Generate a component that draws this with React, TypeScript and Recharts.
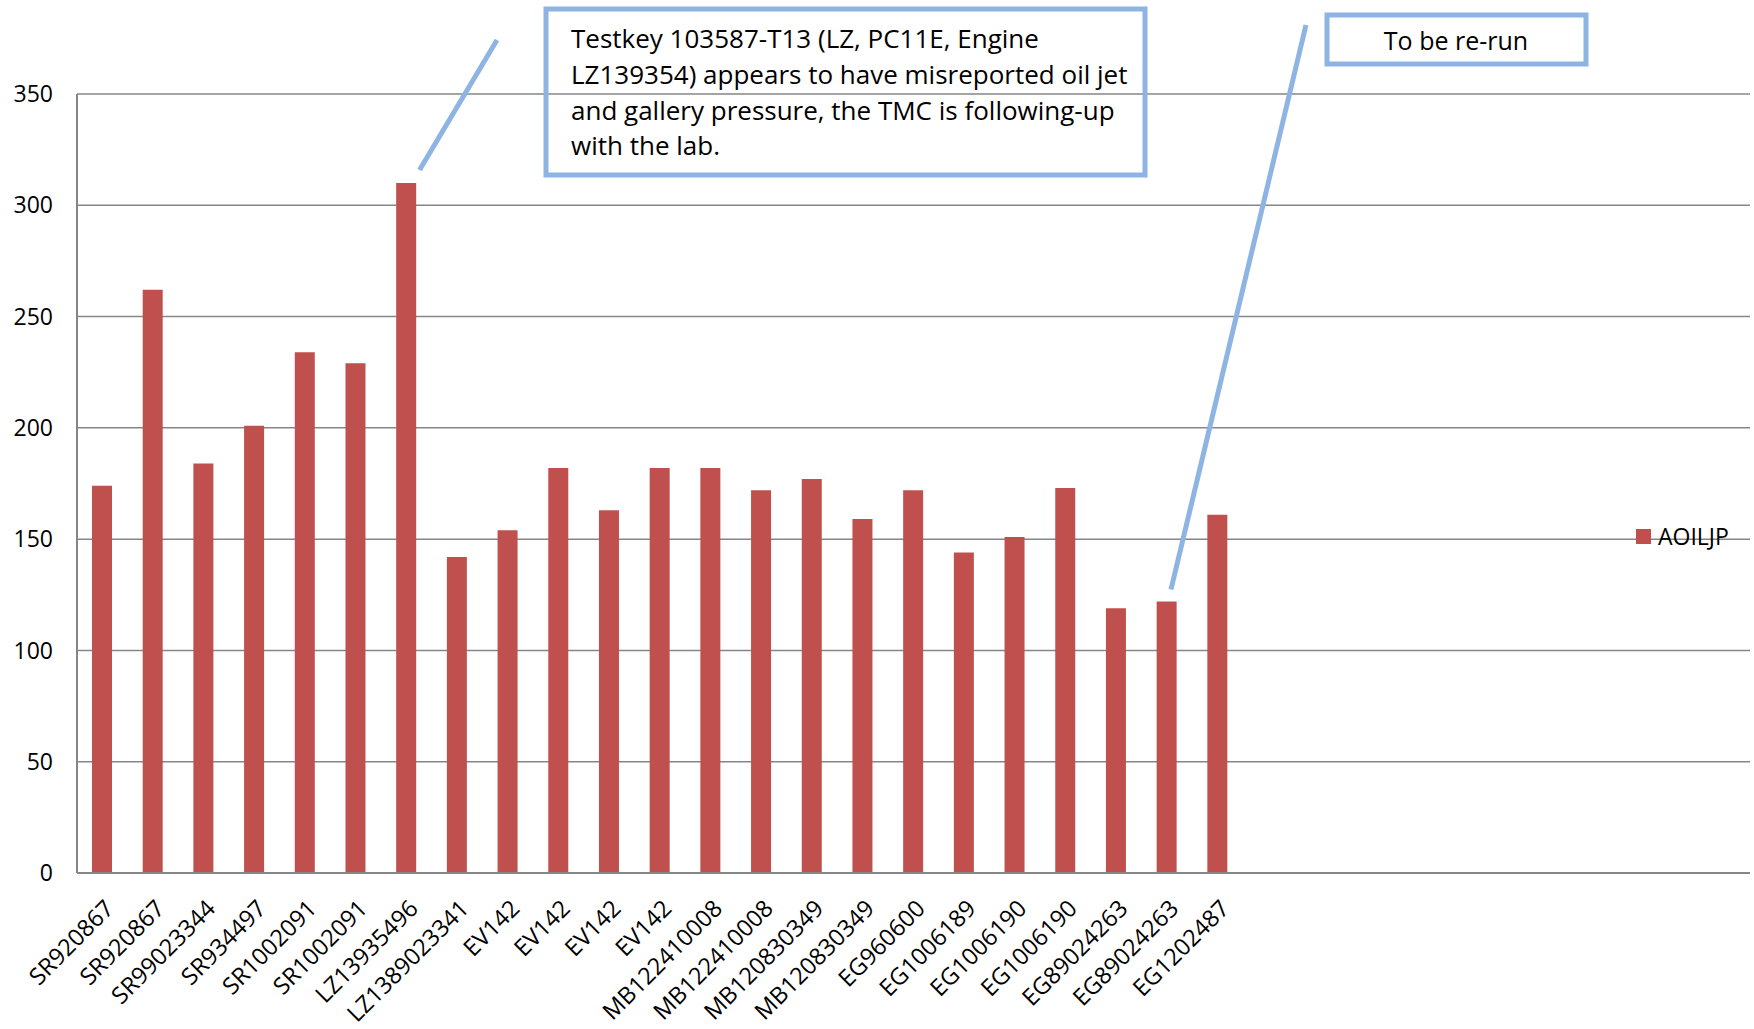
import React from 'react';
import { BarChart, Bar, XAxis, YAxis, CartesianGrid, Legend } from 'recharts';

// sheet rows, in order (names repeat, so bars are keyed by index)
const CATEGORIES = [
    'SR920867', 'SR920867', 'SR99023344', 'SR934497', 'SR1002091', 'SR1002091',
    'LZ13935496', 'LZ1389023341', 'EV142', 'EV142', 'EV142', 'EV142',
    'MB122410008', 'MB122410008', 'MB120830349', 'MB120830349', 'EG960600',
    'EG1006189', 'EG1006190', 'EG1006190', 'EG89024263', 'EG89024263', 'EG1202487',
];
const AOILJP = [174, 262, 184, 201, 234, 229, 310, 142, 154, 182, 163, 182, 182, 172, 177, 159, 172, 144, 151, 173, 119, 122, 161];
const BLANK_ROWS = 10; // the source range ran past the data
const Y_TICKS = [0, 50, 100, 150, 200, 250, 300, 350];

const NOTE_LZ = [
    'Testkey 103587-T13 (LZ, PC11E, Engine',
    'LZ139354) appears to have misreported oil jet',
    'and gallery pressure, the TMC is following-up',
    'with the lab.',
];
const NOTE_RERUN = 'To be re-run';
const LZ_INDEX = 6;
const RERUN_INDEX = 21;

const W = 1754;
const H = 1029;
const LEFT = 77;
const TOP = 94;
const RIGHT = 1750;
const BOTTOM = 873;
const FONT = '"Open Sans", sans-serif';
const RED = '#C0504D';
const BLUE = '#8DB4E2';
const GRID = '#868686';

const data = [
    ...CATEGORIES.map((name, i) => ({ id: i, name, value: AOILJP[i] })),
    ...Array.from({ length: BLANK_ROWS }, (_, k) => ({ id: CATEGORIES.length + k, name: '', value: null })),
];

// pixel helpers for the callout leaders, same scale as the chart
const band = (RIGHT - LEFT) / data.length;
const barX = (i: number) => LEFT + band * (i + 0.5);
const valY = (v: number) => BOTTOM - (v / 350) * (BOTTOM - TOP);

const XTick = (props: any) => {
    const { x, y, payload } = props;
    const label = data[payload.value]?.name ?? '';
    const ax = x + 13;
    const ay = y + 35;
    return (
        <text x={ax} y={ay} transform={`rotate(-45 ${ax} ${ay})`} textAnchor="end" fontSize={23.5} fontFamily={FONT} fill="#000">
            {label}
        </text>
    );
};

const LegendBox = () => (
    <div style={{ display: 'flex', alignItems: 'center', fontFamily: FONT, fontSize: 23, color: '#000' }}>
        <span style={{ width: 15, height: 15, background: RED, marginRight: 7, display: 'inline-block' }} />
        AOILJP
    </div>
);

const App: React.FC = () => {
    const lzX = barX(LZ_INDEX);
    const lzY = valY(AOILJP[LZ_INDEX]);
    const rrX = barX(RERUN_INDEX);
    const rrY = valY(AOILJP[RERUN_INDEX]);

    return (
        <div style={{ position: 'absolute', left: 0, top: 0, width: W, height: H, background: '#fff' }}>
            <BarChart width={W} height={H} data={data} margin={{ top: TOP, right: W - RIGHT, left: 0, bottom: 0 }} barSize={20}>
                <CartesianGrid vertical={false} stroke={GRID} strokeWidth={1.5} />
                <XAxis
                    dataKey="id"
                    height={H - BOTTOM}
                    interval={0}
                    tickLine={false}
                    tickSize={0}
                    axisLine={{ stroke: GRID, strokeWidth: 2 }}
                    tick={<XTick />}
                />
                <YAxis
                    width={LEFT}
                    domain={[0, 350]}
                    ticks={Y_TICKS}
                    interval={0}
                    tickLine={false}
                    tickSize={0}
                    tickMargin={24}
                    axisLine={{ stroke: GRID, strokeWidth: 2 }}
                    tick={{ fontSize: 23, fontFamily: FONT, fill: '#000' }}
                />
                <Legend
                    layout="vertical"
                    align="center"
                    verticalAlign="middle"
                    wrapperStyle={{ left: 1636, top: 520, width: 110 }}
                    content={<LegendBox />}
                />
                <Bar dataKey="value" name="AOILJP" fill={RED} isAnimationActive={false} />
            </BarChart>

            <svg width={W} height={H} style={{ position: 'absolute', left: 0, top: 0, pointerEvents: 'none' }}>
                <line x1={497} y1={40} x2={lzX + 13} y2={lzY - 13} stroke={BLUE} strokeWidth={5} />
                <rect x={546} y={9} width={599} height={166} fill="none" stroke={BLUE} strokeWidth={5} />
                <text fontFamily={FONT} fontSize={26} fill="#000">
                    {NOTE_LZ.map((line, i) => (
                        <tspan key={i} x={571} y={48 + i * 35.8}>{line}</tspan>
                    ))}
                </text>

                <line x1={1306} y1={25} x2={rrX + 4} y2={rrY - 12} stroke={BLUE} strokeWidth={5} />
                <rect x={1327} y={15} width={259} height={49} fill="none" stroke={BLUE} strokeWidth={5} />
                <text x={1456} y={50} textAnchor="middle" fontFamily={FONT} fontSize={25} fill="#000">{NOTE_RERUN}</text>
            </svg>
        </div>
    );
};

export default App;
